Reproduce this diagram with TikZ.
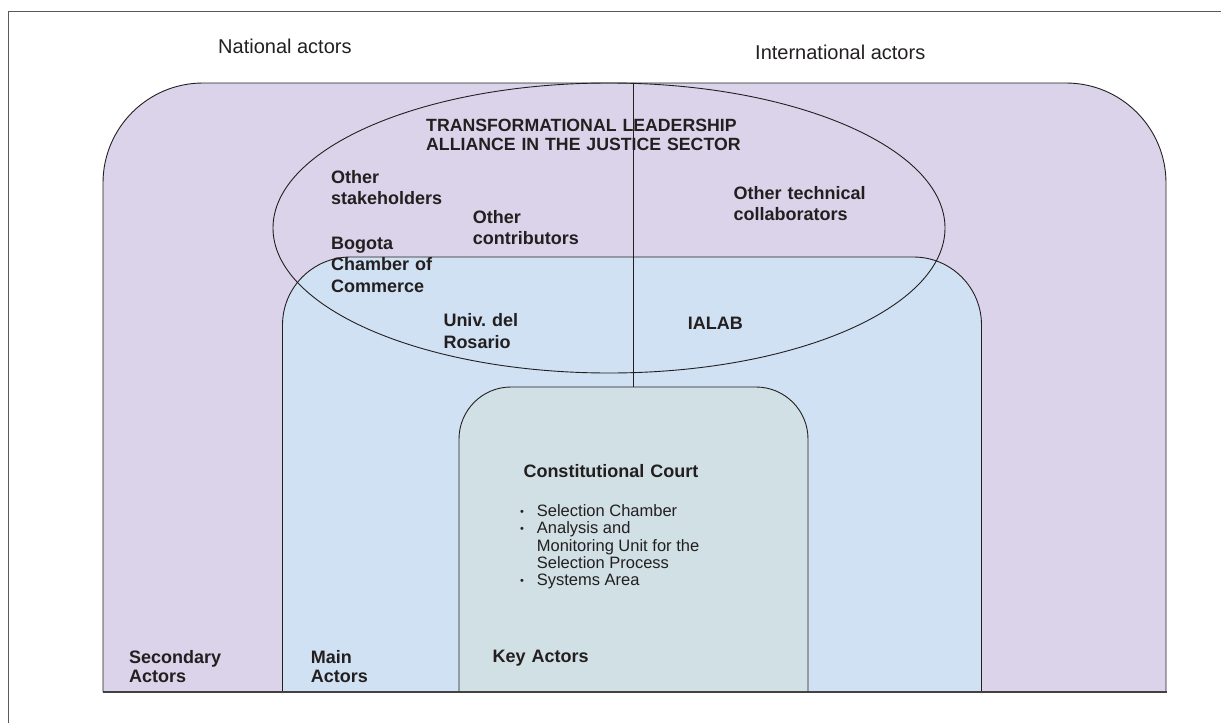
\documentclass[tikz,border=0pt]{standalone}
\usepackage{fontspec}
\setmainfont{Liberation Sans}
\usetikzlibrary{shapes.geometric}
\definecolor{purplefill}{HTML}{DBD3E9}
\definecolor{bluefill}{HTML}{CFE1F2}
\definecolor{greenfill}{HTML}{D1E0E5}
\definecolor{inkdark}{HTML}{231F20}
\definecolor{framegray}{HTML}{5A5A5A}
\frenchspacing
\tikzset{
  region/.style={draw=inkdark, line width=0.9pt},
  bold lbl/.style={anchor=base west, inner sep=0pt, text=inkdark, text width=420pt, align=left,
    font=\bfseries\fontsize{18}{21}\selectfont},
  plain lbl/.style={anchor=base west, inner sep=0pt, text=inkdark,
    font=\fontsize{20}{24}\selectfont},
  list lbl/.style={anchor=base west, inner sep=0pt, text=inkdark,
    font=\fontsize{16.5}{17.2}\selectfont},
}
\newcommand{\blt}{\raisebox{1.2pt}{\fontsize{11}{11}\selectfont •}}
\begin{document}
\begin{tikzpicture}[x=1pt,y=-1pt]
\useasboundingbox (0,0) rectangle (1221,723);
% frame
\draw[framegray, line width=1pt] (8.5,723) -- (8.5,11) -- (1221,11);
% secondary region (purple)
\fill[purplefill, rounded corners=100pt] (103,692) -- (103,83) -- (1166,83) -- (1166,692);
\draw[region, rounded corners=100pt] (103,692) -- (103,83) -- (1166,83) -- (1166,692);
% main region (blue)
\fill[bluefill, rounded corners=68pt] (282.5,692) -- (282.5,257) -- (981.5,257) -- (981.5,692);
\draw[region, rounded corners=68pt] (282.5,692) -- (282.5,257) -- (981.5,257) -- (981.5,692);
% key region (green)
\fill[greenfill, rounded corners=52pt] (459,692) -- (459,387) -- (808,387) -- (808,692);
\draw[region, rounded corners=52pt] (459,692) -- (459,387) -- (808,387) -- (808,692);
% bottom edge
\draw[draw=inkdark!85, line width=1.6pt] (102.5,692) -- (1166.5,692);
% alliance ellipse
\node[ellipse, draw=inkdark, line width=0.9pt, minimum width=672pt, minimum height=290pt, inner sep=0pt] (alliance) at (609,228) {};
% divider national / international
\coordinate (divtop) at (633,83);
\coordinate (divbot) at (633,387);
\draw[draw=inkdark, line width=0.9pt] (divtop) -- (divbot);
% headings
\node[plain lbl] (national) at (218,53.3) {National actors};
\node[plain lbl] (international) at (755,59.3) {International actors};
% labels
\node[bold lbl, font=\bfseries\fontsize{17.7}{19.3}\selectfont] (title) at (426,131) {TRANSFORMATIONAL LEADERSHIP\\ALLIANCE IN THE JUSTICE SECTOR};
\node[bold lbl] (stake) at (331,183.3) {Other\\stakeholders};
\node[bold lbl] (contrib) at (472.7,223.3) {Other\\contributors};
\node[bold lbl, font=\bfseries\fontsize{18}{21.5}\selectfont] (bogota) at (331,249.3) {Bogota\\Chamber of\\Commerce};
\node[bold lbl, font=\bfseries\fontsize{18}{21.6}\selectfont] (rosario) at (443.3,326.7) {Univ. del\\Rosario};
\node[bold lbl] (technical) at (733.3,199.3) {Other technical\\collaborators};
\node[bold lbl] (ialab) at (687.7,329) {IALAB};
\node[bold lbl] (court) at (523.3,477.3) {Constitutional Court};
\node[list lbl] (courtlist) at (520,516.7) {%
\begin{tabular}[t]{@{}p{16.7pt}@{}l@{}}
\blt & Selection Chamber\\
\blt & Analysis and\\
 & Monitoring Unit for the\\
 & Selection Process\\
\blt & Systems Area
\end{tabular}};
\node[bold lbl] (key) at (492.3,662.7) {Key Actors};
\node[bold lbl, font=\bfseries\fontsize{18}{19.4}\selectfont] (secondary) at (129,663.3) {Secondary\\Actors};
\node[bold lbl, font=\bfseries\fontsize{18}{19.4}\selectfont] (main) at (310.7,663.3) {Main\\Actors};
\end{tikzpicture}
\end{document}
